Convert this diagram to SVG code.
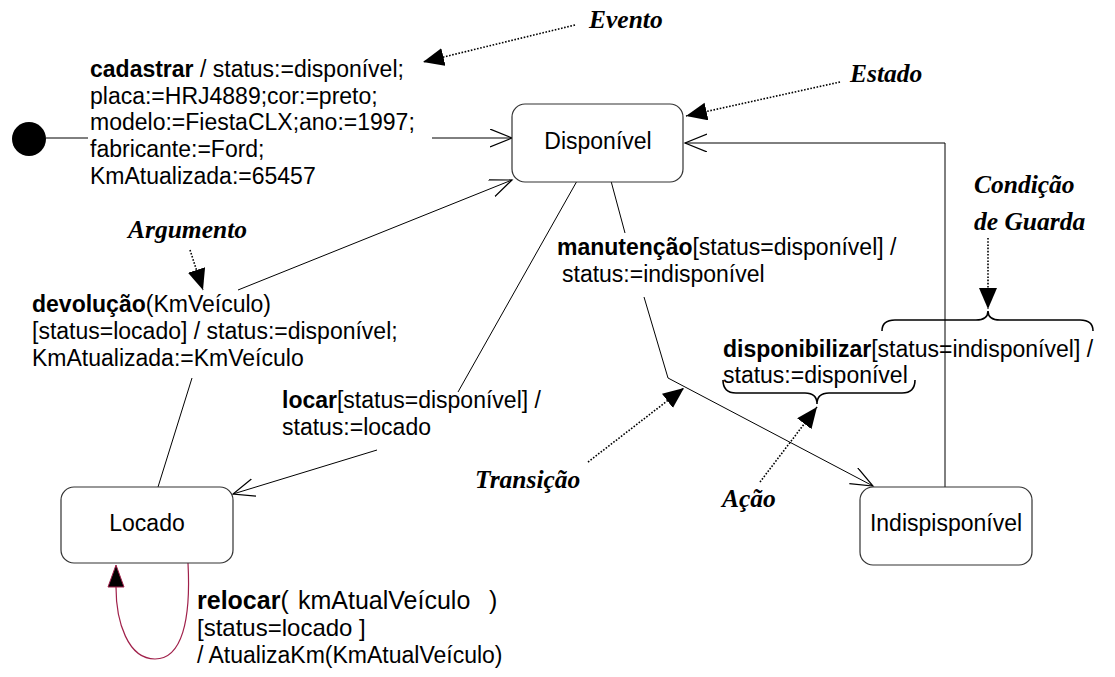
<svg xmlns="http://www.w3.org/2000/svg" width="1115" height="677" viewBox="0 0 1115 677">
  <style>
    .state { fill: #ffffff; stroke: #333333; stroke-width: 1.2; }
    .name { font-family: "Liberation Sans", Arial, sans-serif; font-size: 23px; fill: #000; text-anchor: middle; }
    .lbl { font-family: "Liberation Sans", Arial, sans-serif; font-size: 23px; fill: #000; }
    .lbl tspan.ev { font-weight: bold; }
    .note { font-family: "Liberation Serif", "Times New Roman", serif; font-size: 25.5px; font-weight: bold; font-style: italic; fill: #000; }
    .edge { fill: none; stroke: #000; stroke-width: 1; }
    .dot { fill: none; stroke: #000; stroke-width: 1.6; stroke-dasharray: 1.6 1.6; }
    .brace { fill: none; stroke: #000; stroke-width: 1.6; }
    .loop { fill: none; stroke: #a0204a; stroke-width: 1.2; }
  </style>
  <defs>
    <marker id="open" markerWidth="26" markerHeight="20" refX="22" refY="9" orient="auto" markerUnits="userSpaceOnUse">
      <path d="M0,0 L22,9 L0,18" fill="none" stroke="#000" stroke-width="1.2"/>
    </marker>
    <marker id="solid" markerWidth="24" markerHeight="20" refX="21" refY="9" orient="auto" markerUnits="userSpaceOnUse">
      <path d="M0,0 L21,9 L0,18 Z" fill="#000"/>
    </marker>
  </defs>

  <!-- transitions -->
  <g id="connectors">
    <!-- initial pseudo-state to Disponível -->
    <line class="edge" x1="46" y1="138" x2="88" y2="138"/>
    <line class="edge" x1="432" y1="138" x2="512" y2="138" marker-end="url(#open)"/>
    <!-- disponibilizar: Indispisponível to Disponível -->
    <polyline class="edge" points="945,487 945,143 685,143" marker-end="url(#open)"/>
    <!-- devolução: Locado to Disponível -->
    <line class="edge" x1="158" y1="487" x2="192" y2="378"/>
    <line class="edge" x1="238" y1="290" x2="512" y2="180" marker-end="url(#open)"/>
    <!-- locar: Disponível to Locado -->
    <line class="edge" x1="577" y1="181" x2="458" y2="392"/>
    <line class="edge" x1="377" y1="450" x2="233" y2="494" marker-end="url(#open)"/>
    <!-- manutenção: Disponível to Indispisponível -->
    <line class="edge" x1="611" y1="181" x2="625" y2="233"/>
    <polyline class="edge" points="644,297 668,378 873,486" marker-end="url(#open)"/>
    <!-- relocar: self transition on Locado -->
    <path class="loop" d="M188,563 C191,620 182,659 155,659 C128,659 116,622 116,587"/>
    <path d="M108,587 L116,565 L124,587 Z" fill="#000" stroke="#a0204a" stroke-width="1"/>
  </g>

  <!-- initial pseudo-state -->
  <g id="initial">
    <circle cx="29" cy="139" r="17" fill="#000"/>
  </g>

  <g id="disponivel">
    <rect class="state" x="512" y="104" width="171" height="78" rx="13"/>
    <text class="name" x="598" y="149">Disponível</text>
  </g>

  <g id="locado">
    <rect class="state" x="61" y="487" width="172" height="76" rx="13"/>
    <text class="name" x="147" y="531">Locado</text>
  </g>

  <g id="indisponivel">
    <rect class="state" x="860" y="487" width="172" height="78" rx="13"/>
    <text class="name" x="946" y="531">Indispisponível</text>
  </g>

  <!-- transition labels -->
  <g id="label-cadastrar">
    <text class="lbl" x="90" y="77"><tspan class="ev">cadastrar</tspan> / status:=disponível;</text>
    <text class="lbl" x="90" y="104">placa:=HRJ4889;cor:=preto;</text>
    <text class="lbl" x="90" y="130">modelo:=FiestaCLX;ano:=1997;</text>
    <text class="lbl" x="90" y="157">fabricante:=Ford;</text>
    <text class="lbl" x="90" y="184">KmAtualizada:=65457</text>
  </g>

  <g id="label-devolucao">
    <text class="lbl" x="32" y="312"><tspan class="ev">devolução</tspan>(KmVeículo)</text>
    <text class="lbl" x="32" y="339">[status=locado] / status:=disponível;</text>
    <text class="lbl" x="32" y="366">KmAtualizada:=KmVeículo</text>
  </g>

  <g id="label-locar">
    <text class="lbl" x="282" y="408"><tspan class="ev">locar</tspan>[status=disponível] /</text>
    <text class="lbl" x="282" y="435">status:=locado</text>
  </g>

  <g id="label-manutencao">
    <text class="lbl" x="557" y="255"><tspan class="ev">manutenção</tspan>[status=disponível] /</text>
    <text class="lbl" x="562" y="282">status:=indisponível</text>
  </g>

  <g id="label-disponibilizar">
    <text class="lbl" x="723" y="357"><tspan class="ev">disponibilizar</tspan>[status=indisponível] /</text>
    <text class="lbl" x="723" y="383">status:=disponível</text>
  </g>

  <g id="label-relocar">
    <text class="lbl" x="197" y="609" style="font-size:25px"><tspan class="ev">relocar</tspan>( <tspan x="298">kmAtualVeículo</tspan> <tspan x="489">)</tspan></text>
    <text class="lbl" x="197" y="636" style="font-size:24px">[status=locado ]</text>
    <text class="lbl" x="197" y="663">/ AtualizaKm(KmAtualVeículo)</text>
  </g>

  <!-- explanatory notes -->
  <g id="note-evento">
    <text class="note" x="589" y="28">Evento</text>
    <line class="dot" x1="575" y1="25" x2="423" y2="62" marker-end="url(#solid)"/>
  </g>

  <g id="note-estado">
    <text class="note" x="850" y="82">Estado</text>
    <line class="dot" x1="840" y1="82" x2="686" y2="116" marker-end="url(#solid)"/>
  </g>

  <g id="note-guarda">
    <text class="note" x="974" y="193">Condição</text>
    <text class="note" x="974" y="230">de Guarda</text>
    <line class="dot" x1="988" y1="238" x2="988" y2="309" marker-end="url(#solid)"/>
    <path class="brace" d="M882,331 Q882,320 895,320 L976,320 Q988,320 988,311 Q988,320 1000,320 L1080,320 Q1093,320 1093,331"/>
  </g>

  <g id="note-argumento">
    <text class="note" x="128" y="238">Argumento</text>
    <line class="dot" x1="190" y1="250" x2="203" y2="290" marker-end="url(#solid)"/>
  </g>

  <g id="note-transicao">
    <text class="note" x="475" y="488">Transição</text>
    <line class="dot" x1="588" y1="462" x2="684" y2="388" marker-end="url(#solid)"/>
  </g>

  <g id="note-acao">
    <text class="note" x="722" y="507">Ação</text>
    <line class="dot" x1="760" y1="482" x2="817" y2="407" marker-end="url(#solid)"/>
    <path class="brace" d="M723,380 Q723,393 736,393 L805,393 Q817,393 817,404 Q817,393 829,393 L902,393 Q915,393 915,380"/>
  </g>
</svg>
